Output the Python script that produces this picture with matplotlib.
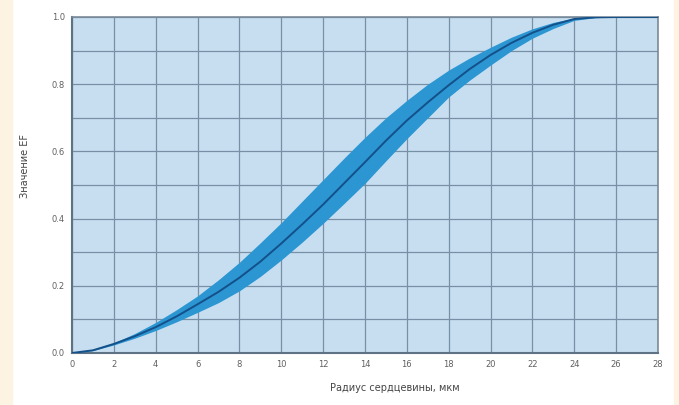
import matplotlib.pyplot as plt
import numpy as np
from matplotlib.patches import Rectangle

# values
radius = [0, 1, 2, 3, 4, 5, 6, 7, 8, 9, 10, 11, 12, 13, 14, 15, 16, 17, 18, 19, 20, 21, 22, 23, 24, 25, 26, 27, 28]
ef_mid = [0.0, 0.008, 0.027, 0.05, 0.077, 0.109, 0.145, 0.182, 0.224, 0.272, 0.326, 0.383, 0.442, 0.505, 0.568, 0.632, 0.692, 0.746, 0.797, 0.845, 0.887, 0.923, 0.953, 0.977, 0.994, 0.999, 1.0, 1.0, 1.0]
ef_hi = [0.0, 0.009, 0.03, 0.058, 0.091, 0.129, 0.17, 0.218, 0.27, 0.328, 0.388, 0.452, 0.516, 0.58, 0.642, 0.7, 0.752, 0.8, 0.842, 0.878, 0.91, 0.94, 0.965, 0.984, 0.997, 1.0, 1.0, 1.0, 1.0]
ef_lo = [0.0, 0.007, 0.024, 0.044, 0.067, 0.093, 0.121, 0.15, 0.185, 0.228, 0.277, 0.33, 0.386, 0.445, 0.505, 0.572, 0.638, 0.7, 0.762, 0.812, 0.857, 0.9, 0.937, 0.966, 0.99, 0.998, 1.0, 1.0, 1.0]

x_ticks = np.arange(0, 29, 2)
y_ticks = [0.0, 0.2, 0.4, 0.6, 0.8, 1.0]

fig = plt.figure(figsize=(6.79, 4.05), dpi=100)
fig.patch.set_facecolor('white')

# cream strips at the page edges
fig.patches.append(Rectangle((0, 0), 12 / 679, 1, transform=fig.transFigure,
                             color='#fdf3e2', zorder=0))
fig.patches.append(Rectangle((674 / 679, 0), 5 / 679, 1, transform=fig.transFigure,
                             color='#fdf3e2', zorder=0))

ax = fig.add_axes([72 / 679, 52 / 405, 586 / 679, 336 / 405])
ax.set_facecolor('#c6def0')

ax.fill_between(radius, ef_lo, ef_hi, color='#2b96d2', lw=0, zorder=3)
ax.plot(radius, ef_mid, color='#14508a', lw=1.4, zorder=4)

ax.set_xlim(0, 28)
ax.set_ylim(0, 1.0)
ax.set_xticks(x_ticks)
ax.set_yticks(np.arange(0, 1.01, 0.1), minor=True)
ax.set_yticks(y_ticks)
ax.set_yticklabels(['%.1f' % v for v in y_ticks])
ax.grid(True, which='both', color='#7890a6', lw=0.9, zorder=1)
ax.set_axisbelow(True)

ax.tick_params(which='both', length=0, labelsize=6, labelcolor='#606060', pad=5)

for side in ['left', 'bottom']:
    ax.spines[side].set_color('#5d7284')
    ax.spines[side].set_linewidth(1.5)
for side in ['top', 'right']:
    ax.spines[side].set_color('#7a8a99')
    ax.spines[side].set_linewidth(1.2)

ax.set_xlabel('Радиус сердцевины, мкм', fontsize=7, color='#444444')
ax.set_ylabel('Значение EF', fontsize=7, color='#444444')
ax.xaxis.set_label_coords(0.551, -0.089)
ax.yaxis.set_label_coords(-0.072, 0.557)

fig.savefig('out.png', dpi=100)
